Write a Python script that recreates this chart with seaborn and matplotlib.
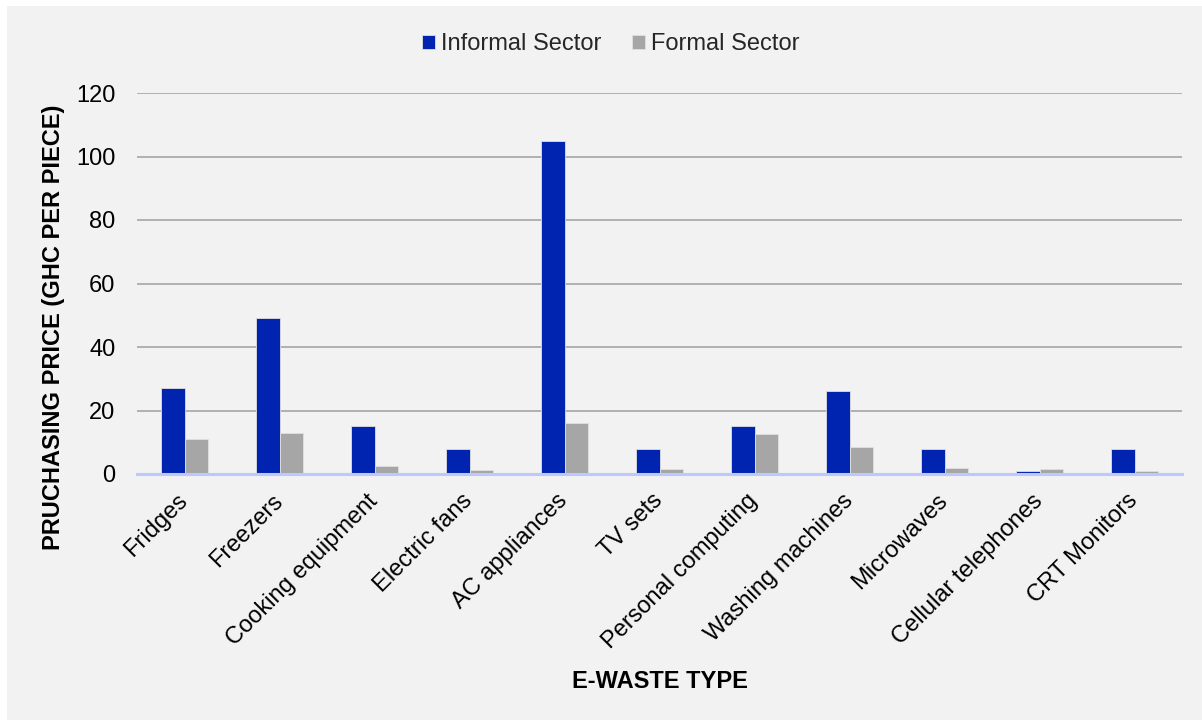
import matplotlib
matplotlib.use("Agg")
import matplotlib.pyplot as plt
from matplotlib.patches import Rectangle
import seaborn as sns
import pandas as pd

categories = ["Fridges", "Freezers", "Cooking equipment", "Electric fans", "AC appliances",
              "TV sets", "Personal computing", "Washing machines", "Microwaves",
              "Cellular telephones", "CRT Monitors"]
informal = [27, 49, 15, 8, 105, 8, 15, 26, 8, 1, 8]
formal = [11, 13, 2.5, 1.3, 16, 1.5, 12.5, 8.5, 2, 1.5, 0.8]
series = ["Informal Sector", "Formal Sector"]
yticks = [0, 20, 40, 60, 80, 100, 120]

df = pd.DataFrame({
    "type": categories * 2,
    "value": informal + formal,
    "sector": [series[0]] * len(categories) + [series[1]] * len(categories),
})

sns.set_theme(style="white")
plt.rcParams['font.family'] = ['Liberation Sans', 'DejaVu Sans']

W, H = 1202, 720
bg = "#f2f2f2"
fig = plt.figure(figsize=(W / 100, H / 100), dpi=100, facecolor="white")
fig.patches.append(Rectangle((7 / W, 0), 1, 1 - 6 / H, transform=fig.transFigure,
                             facecolor=bg, edgecolor="none", zorder=-10))
ax = fig.add_axes([137 / W, 1 - 474 / H, (1182 - 137) / W, (474 - 93) / H])
ax.set_facecolor(bg)

sns.barplot(data=df, x="type", y="value", hue="sector", order=categories,
            hue_order=series, palette=["#0023b0", "#a6a6a6"], width=0.5, gap=0,
            ax=ax, legend=True, errorbar=None, saturation=1, linewidth=0.6,
            edgecolor="#e0e0e0")

ax.set_ylim(0, 120)
ax.set_xlim(-0.5, len(categories) - 0.5)
ax.set_yticks(yticks)
ax.set_yticklabels([str(t) for t in yticks], fontsize=17, color="#000000")
ax.yaxis.grid(True, color="#a6a6a6", linewidth=1.2)
ax.set_axisbelow(True)
for s in ["top", "right", "left"]:
    ax.spines[s].set_visible(False)
ax.spines["bottom"].set_color("#bcc8ff")
ax.spines["bottom"].set_linewidth(2.2)
ax.tick_params(axis="y", length=0, pad=15.5)
ax.tick_params(axis="x", length=0, pad=17)
ax.set_xticks(range(len(categories)))
ax.set_xticklabels(categories, rotation=45, ha="right", va="center",
                   rotation_mode="anchor", fontsize=17, color="#000000")
ax.set_xlabel("E-WASTE TYPE", fontsize=17, fontweight="bold", color="#000000")
ax.xaxis.set_label_coords(0.5, -(682 - 474) / 381)
ax.xaxis.label.set_va("center")
ax.set_ylabel("PRUCHASING PRICE (GHC PER PIECE)", fontsize=17, fontweight="bold",
              color="#000000")
ax.yaxis.set_label_coords(-(137 - 54) / 1045, (474 - 327) / 381)
ax.yaxis.label.set_va("center")

handles, labels = ax.get_legend_handles_labels()
ax.legend(handles, labels, loc="center", bbox_to_anchor=(611 / W, 1 - 44 / H),
          bbox_transform=fig.transFigure,
          ncol=2, frameon=False, fontsize=17, handlelength=0.55, handleheight=0.55,
          handletextpad=0.25, columnspacing=1.3)

fig.savefig("out.png", dpi=100, facecolor="white")
